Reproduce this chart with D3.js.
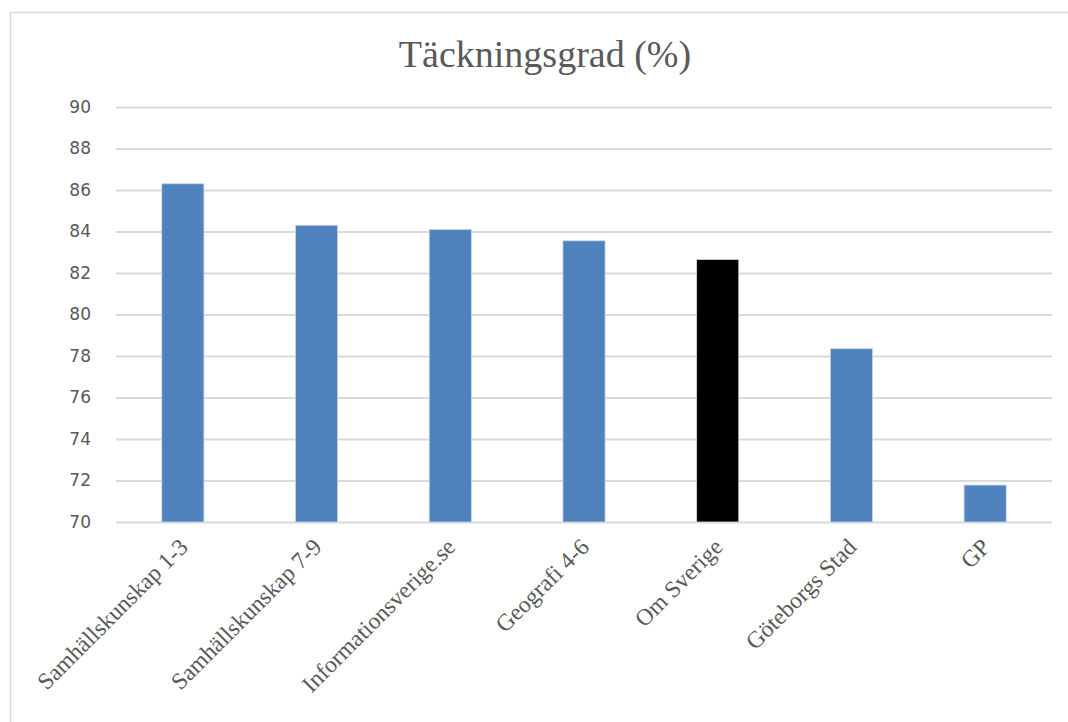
<!DOCTYPE html>
<html>
<head>
<meta charset="utf-8">
<script src="https://cdn.jsdelivr.net/npm/d3@7"></script>
<style>
    body { margin: 0; background: #fff; }
    svg { display: block; }
</style>
</head>
<body>
<svg id="chart" width="1068" height="722"></svg>
<script>
// Data.
const categories = ["Samhällskunskap 1-3", "Samhällskunskap 7-9", "Informationsverige.se",
    "Geografi 4-6", "Om Sverige", "Göteborgs Stad", "GP"];
const values = [86.3, 84.3, 84.1, 83.55, 82.65, 78.35, 71.78];
const highlight = ["Om Sverige"];
const yTicks = [70, 72, 74, 76, 78, 80, 82, 84, 86, 88, 90];
const title = "Täckningsgrad (%)";

const svg = d3.select("#chart"),
    plot = { left: 116, right: 1052, top: 107, bottom: 522 };

// Ram runt diagrammet.
svg.append("rect")
    .attr("x", 10.5).attr("y", 12.5)
    .attr("width", 1100).attr("height", 800)
    .attr("fill", "#fff")
    .attr("stroke", "#d9d9d9")
    .attr("stroke-width", 1.5);

var x = d3.scaleBand().domain(categories).range([plot.left, plot.right]).padding(0),
    y = d3.scaleLinear().domain([70, 90]).range([plot.bottom, plot.top]),
    barW = x.bandwidth() * 0.315;

// Stödlinjer.
svg.append("g")
    .attr("transform", "translate(" + plot.left + ",0)")
    .call(d3.axisLeft(y).tickValues(yTicks).tickSize(-(plot.right - plot.left)).tickPadding(25).tickFormat(d3.format("d")))
    .call(function (g) {
        g.select(".domain").remove();
        g.selectAll(".tick line").attr("stroke", "#d9d9d9").attr("stroke-width", 2);
        g.selectAll(".tick text")
            .attr("fill", "#595959")
            .style("font-family", "'DejaVu Sans', sans-serif")
            .style("font-size", "17px");
    });

// Staplar.
svg.append("g").selectAll("rect")
    .data(categories)
    .enter().append("rect")
    .attr("x", function (d) { return x(d) + (x.bandwidth() - barW) / 2; })
    .attr("y", function (d, i) { return y(values[i]); })
    .attr("width", barW)
    .attr("height", function (d, i) { return y(70) - y(values[i]); })
    .attr("fill", function (d) { return highlight.includes(d) ? "#000000" : "#4f81bd"; })
    .attr("stroke", function (d) { return highlight.includes(d) ? "#d9d9d9" : "#c6d5ea"; })
    .attr("stroke-width", 0.8);

// Kategorietiketter, roterade.
svg.append("g").selectAll("text")
    .data(categories)
    .enter().append("text")
    .attr("transform", function (d) {
        return "translate(" + (x(d) + x.bandwidth() / 2 - 6) + "," + 536 + ") rotate(-45)";
    })
    .attr("text-anchor", "end")
    .attr("dy", "0.75em")
    .attr("fill", "#595959")
    .style("font-family", "'Liberation Serif', serif")
    .style("font-size", "23.5px")
    .text(function (d) { return d; });

// Titel.
svg.append("text")
    .attr("x", (plot.left + plot.right) / 2 - 39)
    .attr("y", 67)
    .attr("text-anchor", "middle")
    .attr("fill", "#595959")
    .style("font-family", "'Liberation Serif', serif")
    .style("font-size", "38px")
    .text(title);
</script>
</body>
</html>
